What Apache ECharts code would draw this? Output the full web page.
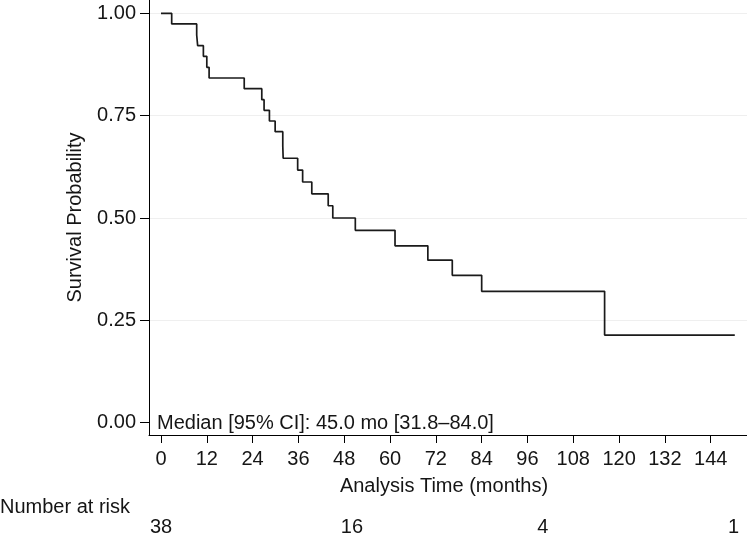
<!DOCTYPE html>
<html>
<head>
<meta charset="utf-8">
<script src="https://cdn.jsdelivr.net/npm/echarts@6/dist/echarts.min.js"></script>
<style>
html,body{margin:0;padding:0;background:#fff;}
#chart{width:747px;height:542px;}
</style>
</head>
<body>
<div id="chart"></div>
<script>
// Kaplan-Meier estimate (months, survival probability)
var times = [0, 2.8, 9.35, 9.6, 11.1, 12.0, 12.6, 21.8, 26.4, 27.0, 28.4, 29.9, 31.9, 32.0, 35.8, 37.1, 39.5, 43.8, 45.0, 50.9, 61.3, 69.9, 76.3, 84.0, 116.2, 150.3];
var survival = [1, 0.974, 0.947, 0.921, 0.895, 0.868, 0.842, 0.816, 0.789, 0.763, 0.737, 0.711, 0.676, 0.646, 0.617, 0.588, 0.559, 0.530, 0.500, 0.470, 0.432, 0.397, 0.360, 0.321, 0.214, 0.214];
var xTicks = [0, 12, 24, 36, 48, 60, 72, 84, 96, 108, 120, 132, 144];
var yTicks = [0, 0.25, 0.5, 0.75, 1];
var riskTimes = [0, 50, 100, 150];
var riskCounts = [38, 16, 4, 1];
var medianText = 'Median [95% CI]: 45.0 mo [31.8\u201384.0]';

var FONT = 'Liberation Sans, Arial, Helvetica, sans-serif';
var TXT = '#151515';
var FS = 20;
var XMIN = -3.143, XMAX = 153.5;

var chart = echarts.init(document.getElementById('chart'), null, {renderer: 'canvas'});
var option = {
  animation: false,
  backgroundColor: '#fff',
  textStyle: {fontFamily: FONT, color: TXT},
  title: [
    {text: medianText, left: 157, top: 413, padding: 0,
     textStyle: {fontFamily: FONT, fontSize: FS, fontWeight: 'normal', color: TXT}},
    {text: 'Number at risk', left: 0, top: 497, padding: 0,
     textStyle: {fontFamily: FONT, fontSize: FS, fontWeight: 'normal', color: TXT}}
  ],
  grid: [
    {left: 149, right: 0, top: 0, bottom: 107, containLabel: false},
    {left: 149, right: 0, top: 515, height: 25, containLabel: false}
  ],
  xAxis: [
    {
      type: 'value', gridIndex: 0, min: XMIN, max: XMAX,
      name: 'Analysis Time (months)', nameLocation: 'middle', nameGap: 41,
      nameTextStyle: {fontFamily: FONT, fontSize: FS, color: TXT, padding: [0, 8, 0, 0]},
      axisLine: {show: true, onZero: false, lineStyle: {color: '#000', width: 1}},
      axisTick: {show: true, length: 8, customValues: xTicks, lineStyle: {color: '#000', width: 1}},
      axisLabel: {show: true, customValues: xTicks, margin: 14, fontFamily: FONT, fontSize: FS, color: TXT},
      splitLine: {show: false}
    },
    {
      type: 'value', gridIndex: 1, min: XMIN, max: XMAX, show: false
    }
  ],
  yAxis: [
    {
      type: 'value', gridIndex: 0, min: -0.030, max: 1.0325,
      name: 'Survival Probability', nameLocation: 'middle', nameGap: 64, nameRotate: 90,
      nameTextStyle: {fontFamily: FONT, fontSize: FS, color: TXT},
      axisLine: {show: true, onZero: false, lineStyle: {color: '#000', width: 1}},
      axisTick: {show: true, length: 9, customValues: yTicks, lineStyle: {color: '#000', width: 1}},
      axisLabel: {show: true, customValues: yTicks, margin: 13, fontFamily: FONT, fontSize: FS, color: TXT,
        formatter: function (v) { return v.toFixed(2); }},
      splitLine: {show: true, lineStyle: {color: ['rgba(0,0,0,0)', '#efefef', '#efefef', '#efefef', '#efefef'], width: 1}}
    },
    {
      type: 'value', gridIndex: 1, min: -1, max: 1, show: false
    }
  ],
  series: [
    {
      type: 'line', xAxisIndex: 0, yAxisIndex: 0, step: 'end',
      showSymbol: false, symbol: 'none',
      lineStyle: {color: '#1a1a1a', width: 1.7},
      data: times.map(function (t, i) { return [t, survival[i]]; })
    },
    {
      type: 'scatter', xAxisIndex: 1, yAxisIndex: 1, symbolSize: 0,
      itemStyle: {opacity: 1},
      label: {show: true, position: 'inside', fontFamily: FONT, fontSize: FS, color: TXT, opacity: 1,
        formatter: function (p) { return String(p.data[2]); }},
      data: riskTimes.map(function (t, i) { return [t, 0, riskCounts[i]]; })
    }
  ]
};
chart.setOption(option);
</script>
</body>
</html>
